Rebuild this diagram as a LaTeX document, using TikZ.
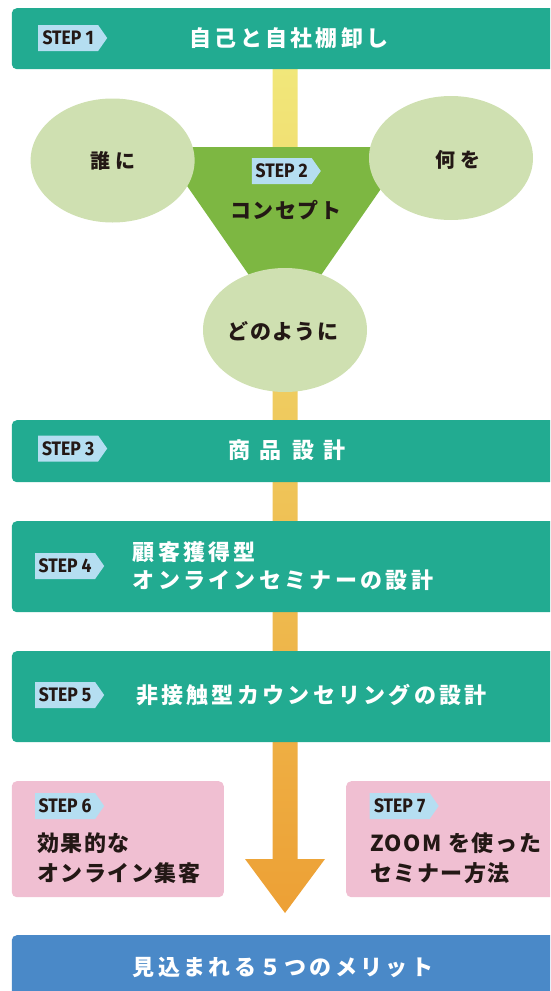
\documentclass[tikz,border=0pt]{standalone}
\usepackage{fontspec}
\usetikzlibrary{shapes.geometric,shapes.symbols}
\newfontfamily\jpfont{Noto Sans CJK JP}
\newfontfamily\jpwide{Noto Sans CJK JP}[LetterSpace=15]
\newfontfamily\jpmid{Noto Sans CJK JP}[LetterSpace=7]
\newfontfamily\stepfont{Fira Sans}[FakeStretch=0.9]
\definecolor{barteal}{RGB}{34,171,145}
\definecolor{tagblue}{RGB}{181,222,241}
\definecolor{ink}{RGB}{35,24,21}
\definecolor{ideagreen}{RGB}{207,224,177}
\definecolor{conceptgreen}{RGB}{125,183,66}
\definecolor{boxpink}{RGB}{240,191,210}
\definecolor{meritblue}{RGB}{74,137,200}
\definecolor{flowyellow}{RGB}{241,231,122}
\definecolor{floworange}{RGB}{237,160,53}

\begin{document}
\begin{tikzpicture}[x=1pt,y=-1pt,
  stepbar/.style={fill=barteal, rounded corners=5pt, minimum width=548pt, anchor=north west, inner sep=0pt},
  pinkbox/.style={fill=boxpink, rounded corners=5pt, minimum height=116pt, anchor=north west, inner sep=0pt},
  steptag/.style={signal, signal to=east, signal pointer angle=110, fill=tagblue, text=ink,
    minimum width=69pt, minimum height=26pt, inner sep=0pt, anchor=west,
    font=\stepfont\bfseries\fontsize{19.5}{19.5}\selectfont},
  idea/.style={ellipse, fill=ideagreen, text=ink, minimum width=164pt, minimum height=124pt,
    inner sep=0pt, font=\jpfont\bfseries\fontsize{20}{20}\selectfont},
  whitetitle/.style={text=white, inner sep=0pt, align=left, font=\jpwide\bfseries\fontsize{22}{28}\selectfont},
  darktitle/.style={text=ink, inner sep=0pt, align=left, font=\jpmid\bfseries\fontsize{22}{30}\selectfont}]
  \useasboundingbox (0,0) rectangle (550,991);
  \clip (0,0) rectangle (550,991);
  % the flow arrow behind everything
  \coordinate (flowtop) at (285,69);
  \coordinate (flowtip) at (285,913);
  \shade[top color=flowyellow, bottom color=floworange]
    (272.5,69) -- (297.5,69) -- (297.5,859) -- (325,859) -- (flowtip) -- (245,859) -- (272.5,859) -- cycle;
  % step 1
  \node[stepbar, minimum height=61pt] (bar1) at (11.6,8) {};
  \node[steptag] (tag1) at (38,38) {STEP 1};
  \node[whitetitle] (title1) at (289,38) {自己と自社棚卸し};
  % step 2: concept triangle and its three questions
  \fill[conceptgreen] (160,147) -- (410,147) -- (285,327) -- cycle;
  \node[idea] (who) at (112.6,160.5) {誰\hspace{5pt}に};
  \node[idea] (what) at (451,158) {};
  \node[text=ink, font=\jpfont\bfseries\fontsize{20}{20}\selectfont] (whatlabel) at (457.5,160) {何\hspace{5pt}を};
  \node[idea] (how) at (285,330) {};
  \node[text=ink, font=\jpmid\bfseries\fontsize{21}{21}\selectfont] (howlabel) at (283,331.5) {どのように};
  \node[steptag] (tag2) at (251.6,171) {STEP 2};
  \node[text=ink, font=\jpmid\bfseries\fontsize{21}{21}\selectfont] (concept) at (285.6,210) {コンセプト};
  % step 3
  \node[stepbar, minimum height=62pt] (bar3) at (11.6,420) {};
  \node[steptag] (tag3) at (38,448.5) {STEP 3};
  \node[text=white, font=\jpfont\bfseries\fontsize{22}{22}\selectfont] (title3) at (287,450)
    {商\hspace{10pt}品\hspace{10pt}設\hspace{10pt}計};
  % step 4
  \node[stepbar, minimum height=91pt] (bar4) at (11.6,521) {};
  \node[steptag] (tag4) at (35,566) {STEP 4};
  \node[whitetitle, anchor=west] (title4) at (132.6,566) {顧客獲得型\\オンラインセミナーの設計};
  % step 5
  \node[stepbar, minimum height=91pt] (bar5) at (11.6,651) {};
  \node[steptag] (tag5) at (35,695) {STEP 5};
  \node[whitetitle, anchor=west] (title5) at (135.8,695) {非接触型カウンセリングの設計};
  % steps 6 and 7 beside the arrow
  \node[pinkbox, minimum width=212pt] (box6) at (11.6,781) {};
  \node[steptag] (tag6) at (35,806) {STEP 6};
  \node[darktitle, anchor=west] (title6) at (36.8,858) {効果的な\\オンライン集客};
  \node[pinkbox, minimum width=214pt] (box7) at (346,781) {};
  \node[steptag] (tag7) at (369.5,806) {STEP 7};
  \node[darktitle, anchor=west] (title7) at (370,858) {ZOOM を使った\\セミナー方法};
  % result
  \node[stepbar, fill=meritblue, minimum height=70pt] (merit) at (11.6,935) {};
  \node[whitetitle] (meritlabel) at (283,967) {見込まれる５つのメリット};
\end{tikzpicture}
\end{document}
